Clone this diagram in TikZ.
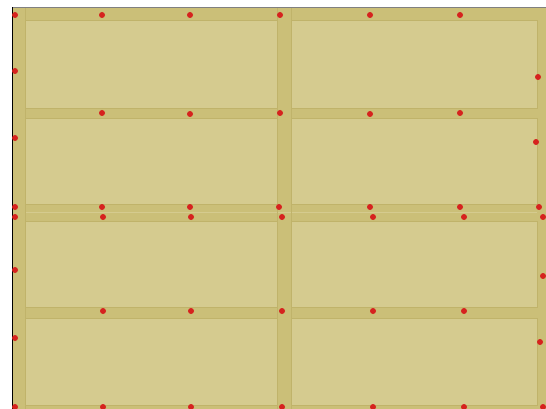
\documentclass[tikz,border=0pt]{standalone}
\usetikzlibrary{arrows.meta}

\definecolor{framecol}{RGB}{203,191,120}
\definecolor{panelcol}{RGB}{213,203,143}
\definecolor{edgecol}{RGB}{192,179,106}
\definecolor{nailcol}{RGB}{214,34,30}

\begin{document}
\begin{tikzpicture}[x=1pt,y=-1pt]

\useasboundingbox[fill=white] (0,0) rectangle (546,409);

% Frame (studs and rails)
\fill[framecol] (12,8) rectangle (546,409);

% Panels between the members
\foreach \ya/\yb in {20/108, 118/204, 221/307, 318/405}{
  \foreach \xa/\xb in {25/277, 291/537}{
    \fill[panelcol, draw=edgecol, line width=0.6pt] (\xa,\ya) rectangle (\xb,\yb);
  }
}

% Split between upper and lower wall
\draw[panelcol, line width=1.5pt] (25,212.5) -- (537,212.5);
\draw[edgecol, line width=0.6pt] (277,8) -- (277,409);
\draw[edgecol, line width=0.6pt] (291,8) -- (291,409);
\draw[edgecol, line width=0.6pt] (25,8) -- (25,409);

% Outer edges
\draw[gray, line width=0.8pt] (12,7.5) -- (546,7.5);
\draw[black, line width=1pt] (12,7.5) -- (12,409);

% Nails
\foreach \x/\y in {15/15, 102/15, 190/15, 280/15, 370/15, 460/15,
                   15/71, 538/77,
                   102/113, 190/114, 280/113, 370/114, 460/113,
                   15/138, 536/142,
                   15/207, 102/207, 190/207, 279/207, 370/207, 460/207, 539/207,
                   15/217, 103/217, 191/217, 282/217, 373/217, 464/217, 543/217,
                   15/270, 543/276,
                   103/311, 191/311, 282/311, 373/311, 464/311,
                   15/338, 540/342,
                   15/407, 103/407, 191/407, 282/407, 373/407, 464/407, 543/407}{
  \fill[nailcol] (\x,\y) circle (3pt);
}

\end{tikzpicture}
\end{document}
